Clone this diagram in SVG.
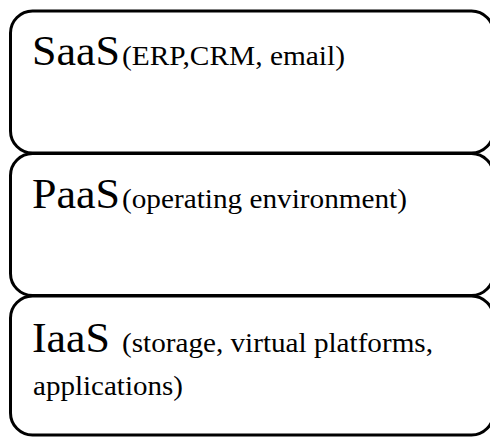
<svg xmlns="http://www.w3.org/2000/svg" width="490" height="439" viewBox="0 0 490 439">
  <style>
    .layer { fill: #ffffff; stroke: #000000; stroke-width: 3; }
    .big { font-family: "Liberation Serif", "Times New Roman", serif; font-size: 42px; fill: #000000; }
    .small { font-family: "Liberation Serif", "Times New Roman", serif; font-size: 27px; fill: #000000; }
  </style>
  <rect x="0" y="0" width="490" height="439" fill="#ffffff"/>
  <g id="saas">
    <rect class="layer" x="10.5" y="11" width="483" height="142" rx="22" ry="22"/>
    <text class="big" x="32" y="65" textLength="88" lengthAdjust="spacingAndGlyphs">SaaS</text>
    <text class="small" x="122" y="65" textLength="223" lengthAdjust="spacingAndGlyphs">(ERP,CRM, email)</text>
  </g>
  <g id="paas">
    <rect class="layer" x="10.5" y="153.5" width="483" height="142" rx="22" ry="22"/>
    <text class="big" x="32" y="208" textLength="88" lengthAdjust="spacingAndGlyphs">PaaS</text>
    <text class="small" x="122" y="208" textLength="285" lengthAdjust="spacingAndGlyphs">(operating environment)</text>
  </g>
  <g id="iaas">
    <rect class="layer" x="10.5" y="296" width="483" height="139" rx="22" ry="22"/>
    <text class="big" x="32" y="352" textLength="78" lengthAdjust="spacingAndGlyphs">IaaS</text>
    <text class="small" x="122" y="352" textLength="311" lengthAdjust="spacingAndGlyphs">(storage, virtual platforms,</text>
    <text class="small" x="33" y="395" textLength="150" lengthAdjust="spacingAndGlyphs">applications)</text>
  </g>
</svg>
